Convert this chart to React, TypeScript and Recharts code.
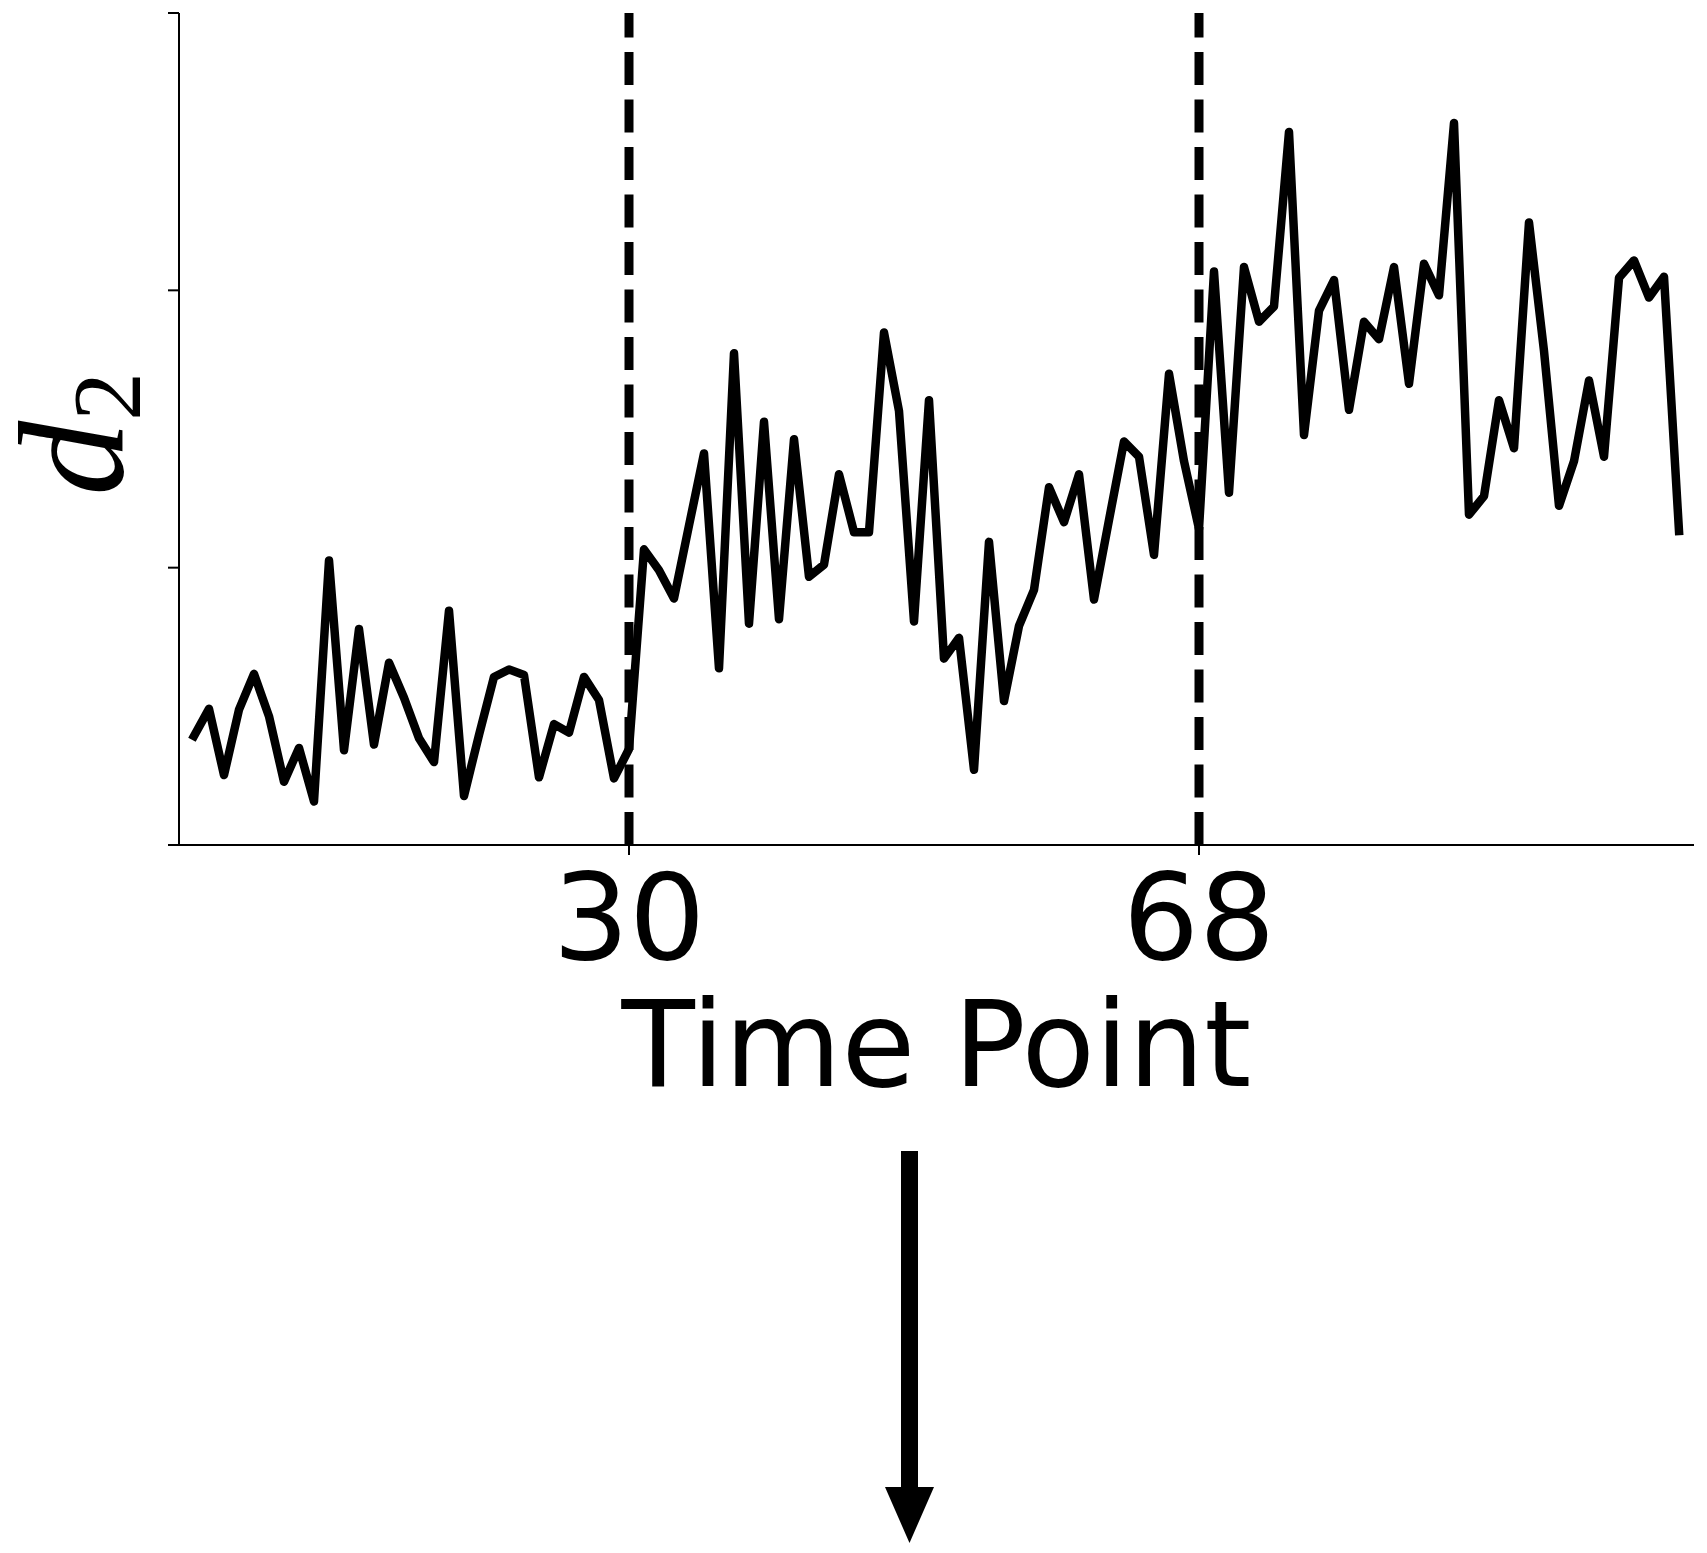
import React from "react";
import { LineChart, Line, XAxis, YAxis, ReferenceLine } from "recharts";

// d2 readings per time point (1..100)
const d2Values = [
  0.393, 0.491, 0.252, 0.488, 0.617, 0.464, 0.228, 0.35, 0.157, 1.026,
  0.342, 0.779, 0.362, 0.657, 0.531, 0.385, 0.299, 0.845, 0.177, 0.397,
  0.606, 0.633, 0.613, 0.244, 0.436, 0.405, 0.606, 0.523, 0.24, 0.346,
  1.066, 0.991, 0.889, 1.152, 1.412, 0.637, 1.773, 0.798, 1.526, 0.814,
  1.463, 0.967, 1.011, 1.337, 1.128, 1.128, 1.848, 1.565, 0.806, 1.604,
  0.672, 0.747, 0.271, 1.093, 0.519, 0.79, 0.92, 1.29, 1.164, 1.337,
  0.885, 1.172, 1.455, 1.4, 1.046, 1.699, 1.384, 1.14, 2.068, 1.27,
  2.084, 1.887, 1.942, 2.571, 1.478, 1.927, 2.037, 1.569, 1.887, 1.824,
  2.084, 1.663, 2.096, 1.982, 2.603, 1.191, 1.258, 1.604, 1.431, 2.245,
  1.781, 1.223, 1.384, 1.675, 1.4, 2.045, 2.108, 1.974, 2.049, 1.132,
];
const changePoints = [30, 68];
const yTicks = [0, 1, 2, 3];

const data = d2Values.map((v, i) => ({ t: i + 1, d2: v }));

const W = 1707;
const H = 1553;
const FONT = "'DejaVu Sans', sans-serif";

const XLabel = (props: any) => {
  const vb = props.viewBox || { x: 178, y: 845, width: 1516 };
  return (
    <text x={vb.x + vb.width / 2} y={vb.y + 241} textAnchor="middle" fontFamily={FONT} fontSize={120} fill="#000">
      Time Point
    </text>
  );
};

const YLabel = (props: any) => {
  const vb = props.viewBox || { y: 13, height: 832 };
  const cy = vb.y + vb.height / 2 + 5;
  return (
    <text transform={`translate(122, ${cy}) rotate(-90)`} textAnchor="middle" fontFamily="'Liberation Serif', serif" fill="#000">
      <tspan fontStyle="italic" fontSize={150}>d</tspan>
      <tspan fontSize={97} dy={18}>2</tspan>
    </text>
  );
};

export default function App() {
  return (
    <div style={{ position: "absolute", left: 0, top: 0, width: W, height: H, background: "#fff" }}>
      <LineChart width={W} height={H} data={data} margin={{ top: 13, right: 13, left: 0, bottom: 0 }}>
        <XAxis
          dataKey="t"
          type="number"
          domain={[0, 101]}
          ticks={changePoints}
          height={708}
          tickSize={10}
          tickMargin={19}
          axisLine={{ stroke: "#000", strokeWidth: 2 }}
          tickLine={{ stroke: "#000", strokeWidth: 2 }}
          tick={{ fontFamily: FONT, fontSize: 120, fill: "#000" }}
          label={<XLabel />}
        />
        <XAxis
          xAxisId="top"
          orientation="top"
          dataKey="t"
          type="number"
          domain={[0, 101]}
          height={0}
          tick={false}
          tickLine={false}
          axisLine={{ stroke: "#000", strokeWidth: 2 }}
        />
        <YAxis
          type="number"
          domain={[0, 3]}
          ticks={yTicks}
          width={179}
          tickSize={11}
          tickFormatter={() => ""}
          axisLine={{ stroke: "#000", strokeWidth: 2 }}
          tickLine={{ stroke: "#000", strokeWidth: 2 }}
          label={<YLabel />}
        />
        <YAxis
          yAxisId="right"
          orientation="right"
          type="number"
          domain={[0, 3]}
          width={0}
          tick={false}
          tickLine={false}
          axisLine={{ stroke: "#000", strokeWidth: 2 }}
        />
        {changePoints.map((cp) => (
          <ReferenceLine
            key={cp}
            segment={[{ x: cp, y: 0 }, { x: cp, y: 3 }]}
            stroke="#000"
            strokeWidth={9}
            strokeDasharray="33 14.5"
          />
        ))}
        <Line
          type="linear"
          dataKey="d2"
          stroke="#000"
          strokeWidth={8.5}
          strokeLinejoin="round"
          strokeLinecap="square"
          dot={false}
          isAnimationActive={false}
        />
      </LineChart>
      <svg width={W} height={H} style={{ position: "absolute", left: 0, top: 0, pointerEvents: "none" }}>
        <rect x={901} y={1151} width={17} height={338} fill="#000" />
        <polygon points="885,1487 934,1487 909.5,1543" fill="#000" />
      </svg>
    </div>
  );
}
